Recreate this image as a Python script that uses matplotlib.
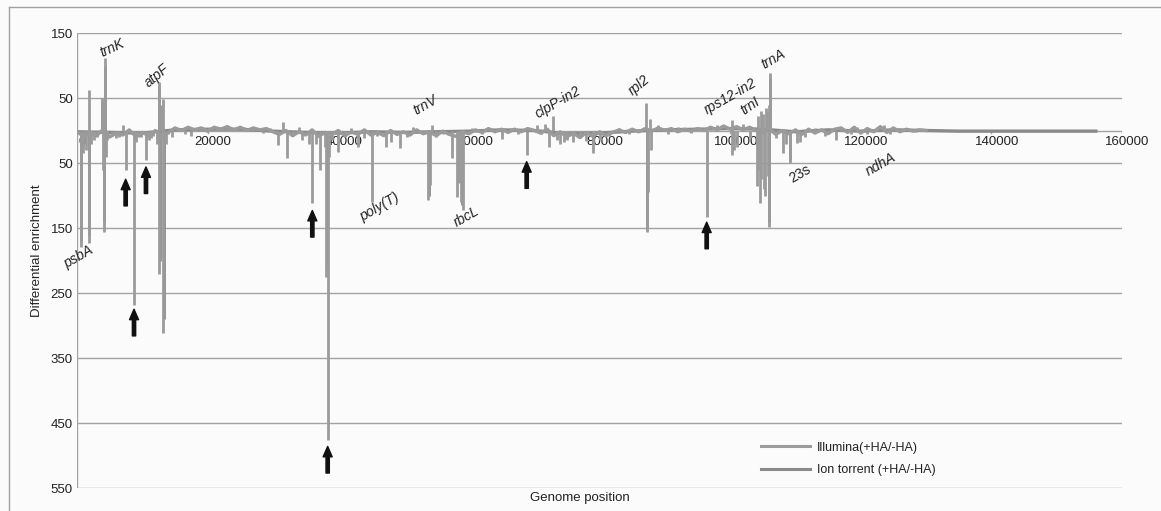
import matplotlib
matplotlib.use('Agg')
import matplotlib.pyplot as plt
from matplotlib.lines import Line2D
from matplotlib.ticker import FixedLocator, FuncFormatter

plt.rcParams['font.family'] = ['Liberation Sans', 'DejaVu Sans']

# ---------------- data ----------------
x_ticks = [0, 20000, 40000, 60000, 80000, 100000, 120000, 140000, 160000]
y_ticks = [150, 50, -50, -150, -250, -350, -450, -550]

illumina_base_pos = list(range(0, 130001, 1000))
illumina_base_val = [-2, -9, -3, -8, 2, -10, -4, -7, 1, -9, -3, -8, 0, -10, -3,
                     4, 0, 5, 1, 4, -1, 5, 2, 6, 1, 5, 0, 4, 1, 3, -2,
                     -6, 0, -8, -2, -7, 1, -9, -3, -6, 0, -8, -2, -6, 1, -7, -3, -8, 0, -6,
                     -2, -7, 1, -5, -2, -8, -1, -6, -9, -2, -5,
                     1, -3, 3, -2, 2, -3, 2, -2, 3, 0,
                     -4, 2, -8, -2, -10, -4, -11, -3, -9, -2, -8, -3,
                     1, -3, 2, -2, 3, -1, 4, 0, 3, -2, 2, -1, 3, 0,
                     5, 1, 7, 2, 6, 1, 5, 0,
                     -4, 2, -6, 0, -5, 1, -6, 2, -4, 1, -5, 2,
                     4, -3, 5, -4, 3, -2, 6, -3, 4, -2,
                     2, -1, 1, 0]

illumina_spike_pos = [560, 900, 1400, 1840, 1840, 2200, 3800, 3900, 4000, 4100, 4180, 4290,
                      4400, 4600, 6000, 7450, 8730, 9500, 10560, 11300, 12200, 12600, 12600,
                      12900, 13220, 13220, 13600, 14500, 30820, 31590, 32200, 34500, 35500,
                      36030, 36600, 37200, 38000, 38200, 38380, 38600, 40010, 43070, 45120,
                      47260, 49450, 53800, 54100, 54400, 57460, 58130, 58500, 58800, 59050,
                      65020, 68850, 71650, 72320, 72930, 73500, 74500, 79050, 87100, 87250,
                      87400, 87700, 87900, 96410, 100240, 100240, 100600, 104060, 104200,
                      104300, 104500, 104700, 104800, 105000, 105200, 105400, 105500, 105600,
                      105800, 105950, 106000, 106100, 108100, 109170, 110190, 110700, 116200,
                      1200, 2600, 3000, 5400, 6500, 7000, 9000, 9800, 11000, 11600, 14000,
                      15500, 16500, 17500, 19000, 21500, 23000, 25500, 27000, 28500, 29500,
                      33000, 34000, 39000, 41000, 42000, 44000, 46000, 48000, 50500, 51500,
                      55000, 56000, 60500, 62000, 63500, 66500, 67500, 70500, 71000, 74000,
                      75000, 76000, 77000, 78000, 80000, 81500, 83000, 84500, 89000, 90500,
                      92000, 94000, 98000, 101000, 102000, 103000, 107000, 108500, 111500,
                      113000, 114500, 117000, 118500, 119500, 121000, 122500, 123500, 124500,
                      126000, 127500, 128500]
illumina_spike_val = [-179, -35, -30, -173, 62, -20, 50, 45, -60, -77, -156, 111,
                      -40, -15, -12, -61, -268, -10, -45, -12, -20, 75, -220,
                      40, 48, -312, -20, -10, -22, 13, -42, -15, -20,
                      -112, -20, -61, -25, -225, -476, -40, -33, -26, -110,
                      -26, -27, -107, -84, 8, -43, -102, -80, -110, -122,
                      -13, -38, 10, -25, 22, -15, -18, -35, 42, -156,
                      -94, 18, -30, -133, 16, -38, -30, -86, -60,
                      23, -112, -75, 30, 25, -90, -100, 34, 28,
                      -70, -148, 40, 88, -35, -50, -19, -17, -15,
                      -12, -15, -10, -8, -10, 8, -18, -10, -14, -8, -6,
                      4, -5, -8, 5, 6, 4, 5, 6, -4, 4,
                      -8, 5, -14, -10, 4, -12, -8, -18, -10, 6,
                      -10, -6, 4, -6, 4, 4, -5, 8, -6, -20,
                      -14, -18, -12, -16, -14, -8, 4, -6, 8, -5,
                      5, -4, 8, -25, 10, -12, -12, -20, -10,
                      4, -8, 5, -6, 5, -6, 6, 8, -5,
                      4, 3, -3]

ion_base_pos = [0, 5000, 10000, 15000, 20000, 25000, 30000, 35000, 40000, 45000,
                50000, 55000, 60000, 65000, 70000, 75000, 80000, 85000, 90000, 95000,
                100000, 105000, 110000, 115000, 120000, 125000, 130000, 135000, 140000,
                145000, 150000, 156000]
ion_base_val = [-2, -3, -4, 1, 2, 2, -1, -3, -4, -2,
                -3, -2, -1, 1, 0, -5, -4, -1, 1, 2,
                3, 2, -2, 1, -1, 1, 0, -1, -1,
                -1, -1, -1]
ion_spike_pos = [600, 1900, 4150, 4300, 12550, 12650, 13250, 38250, 53900, 58900,
                 87300, 105900, 106050, 109200]
ion_spike_val = [-170, -160, -140, 100, 70, -200, -290, -210, -100, -115,
                 -150, -140, 80, -45]

gene_names = ['trnK', 'atpF', 'psbA', 'poly(T)', 'trnV', 'rbcL', 'clpP-in2', 'rpl2',
              'rps12-in2', 'trnI', 'trnA', '23s', 'ndhA']
gene_x = [5400, 12300, 300, 46400, 53300, 59600, 73600, 86000, 100000, 103100, 106600,
          110700, 123100]
gene_y = [127, 85, -195, -118, 39, -132, 43, 70, 52, 37, 110, -67, -52]

arrow_x = [7450, 10560, 8730, 36030, 38380, 68850, 96410]
arrow_tip = [-75, -56, -275, -123, -486, -48, -141]

# ---------------- figure ----------------
W, H = 1161, 511
fig = plt.figure(figsize=(W / 100, H / 100), dpi=100, facecolor='#fbfbfb')
ax = fig.add_axes([77 / W, 1 - 488 / H, (1122 - 77) / W, (488 - 33) / H])
ax.set_facecolor('none')
ax.set_xlim(0, 160000)
ax.set_ylim(-550, 150)
for s in ax.spines.values():
    s.set_visible(False)

grid_c = '#a3a3a3'
for yv in y_ticks:
    ax.axhline(yv, color=grid_c, lw=1.0, zorder=1)
ax.axvline(0, color=grid_c, lw=1.0, zorder=1)
ax.axhline(0, color=grid_c, lw=1.0, zorder=1)

ax.yaxis.set_major_locator(FixedLocator(y_ticks))
ax.yaxis.set_major_formatter(FuncFormatter(lambda v, p: f'{abs(int(v))}'))
ax.tick_params(axis='y', length=0, pad=3, labelsize=9.5, labelcolor='#222222')
ax.set_xticks([])

for xt in x_ticks:
    ax.annotate(f'{xt}', xy=(xt, 0), xytext=(4, -8.5), textcoords='offset points',
                ha='center', va='center', fontsize=9.5, color='#222222')
    ax.plot([xt, xt], [0, -4], color=grid_c, lw=1.0, zorder=1)

ill_c = '#9b9b9b'
ion_c = '#8a8a8a'
ax.vlines(ion_spike_pos, 0, ion_spike_val, color=ion_c, lw=2.0, zorder=3)
ax.plot(ion_base_pos, ion_base_val, color=ion_c, lw=2.4, zorder=3,
        label='Ion torrent (+HA/-HA)')
ax.vlines(illumina_spike_pos, 0, illumina_spike_val, color=ill_c, lw=2.0, zorder=4)
ax.plot(illumina_base_pos, illumina_base_val, color=ill_c, lw=2.4, zorder=4,
        label='Illumina(+HA/-HA)')

rot = {'trnK': 25, 'atpF': 40, 'rpl2': 40, 'trnI': 35}
for name, gx, gy in zip(gene_names, gene_x, gene_y):
    style = 'normal' if name == '23s' else 'italic'
    ax.text(gx, gy, name, rotation=rot.get(name, 30), ha='center', va='center',
            fontsize=10, style=style, color='#222222', rotation_mode='anchor', zorder=6)

for axx, tip in zip(arrow_x, arrow_tip):
    ax.annotate('', xy=(axx, tip), xytext=(axx, tip - 41),
                arrowprops=dict(width=2.4, headwidth=6.5, headlength=7.5,
                                color='#111111', shrink=0), zorder=7)

handles, labels = ax.get_legend_handles_labels()
order = [labels.index('Illumina(+HA/-HA)'), labels.index('Ion torrent (+HA/-HA)')]
leg = ax.legend([handles[i] for i in order], [labels[i] for i in order],
                loc='center left', bbox_to_anchor=(761 / W, 1 - 459 / H),
                bbox_transform=fig.transFigure, frameon=False, fontsize=9,
                handlelength=3.9, handletextpad=0.6, labelspacing=0.85, borderpad=0,
                borderaxespad=0)
for t in leg.get_texts():
    t.set_color('#222222')
for ln in leg.get_lines():
    ln.set_linewidth(2.2)

fig.text(37 / W, 1 - 251 / H, 'Differential enrichment', rotation=90, ha='center',
         va='center', fontsize=9.5, color='#222222')
fig.text(580 / W, 1 - 498 / H, 'Genome position', ha='center', va='center',
         fontsize=9.5, color='#222222')

fig.add_artist(Line2D([9 / W, 1], [1 - 7 / H, 1 - 7 / H], color='#a0a0a0', lw=1.0,
                      transform=fig.transFigure))
fig.add_artist(Line2D([9 / W, 9 / W], [0, 1 - 7 / H], color='#a0a0a0', lw=1.0,
                      transform=fig.transFigure))

fig.savefig('out.png', dpi=100, facecolor=fig.get_facecolor())
